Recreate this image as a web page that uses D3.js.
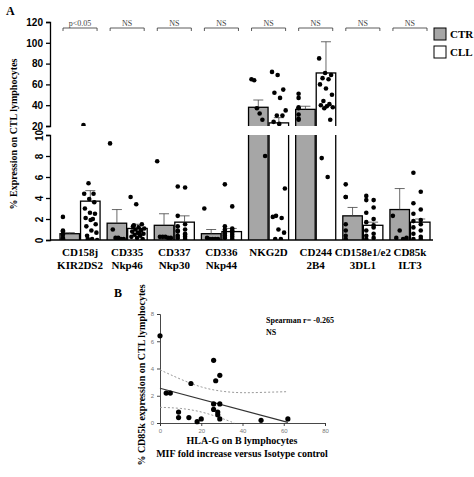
<!DOCTYPE html>
<html lang="en">
<head>
<meta charset="UTF-8">
<script src="https://cdnjs.cloudflare.com/ajax/libs/d3/7.6.1/d3.min.js"></script>
<style>
  body { margin: 0; background: #fff; }
  text { font-family: "Liberation Serif", serif; font-weight: bold; }
</style>
</head>
<body>
<svg id="fig" width="474" height="477"></svg>
<script>
// ---------------- data: panel A ----------------
const markers = ["CD158j|KIR2DS2", "CD335|Nkp46", "CD337|Nkp30", "CD336|Nkp44", "NKG2D|", "CD244|2B4", "CD158e1/e2|3DL1", "CD85k|ILT3"];
const signif = ["p<0.05", "NS", "NS", "NS", "NS", "NS", "NS", "NS"];
const ctrMean = [0.6, 1.6, 1.4, 0.6, 38, 36, 2.3, 2.9];
const ctrErr  = [0.7, 2.9, 2.5, 1.0, 45, 39, 3.1, 4.9];
const cllMean = [3.7, 1.1, 1.7, 0.8, 23, 71, 1.4, 1.7];
const cllErr  = [4.7, 1.5, 2.3, 1.1, 28, 101, 1.7, 2.0];
const ctrDots = [
  [2.2, 0.9, 0.8, 0.5, 0.2, 0.1, 0.1],
  [9.2, 1.0, 0.2, 0.2, 0.1, 0.1],
  [7.5, 0.3, 0.3, 0.3, 0.2, 0.2],
  [3.0, 0.2, 0.1, 0.1, 0.1, 0.1],
  [65, 64, 37, 32, 26, 8.0],
  [51, 47, 38, 37, 31, 27, 26],
  [5.3, 4.1, 4.1, 1.5, 0.9, 0.4, 0.1],
  [2.3, 0.9, 0.2, 0.2, 0.1]
];
const cllDots = [
  [21, 5.4, 4.4, 4.4, 3.9, 3.6, 3.0, 2.6, 2.5, 2.1, 1.9, 1.5, 1.3, 0.9, 0.7, 0.4, 0.1, 0.0, 0.1, 2.0],
  [4.1, 3.4, 1.5, 1.3, 1.2, 1.1, 1.0, 0.9, 0.8, 0.7, 0.6, 0.5, 0.4, 0.3, 0.2, 0.1, 1.4, 0.6],
  [5.1, 5.0, 2.3, 1.5, 1.3, 1.0, 0.8, 0.6, 0.4, 0.3, 0.2, 0.1, 0.9, 0.5],
  [5.3, 3.2, 1.3, 1.1, 1.0, 0.9, 0.8, 0.7, 0.6, 0.5, 0.4, 0.3, 0.2, 0.1],
  [72, 69, 55, 52, 47, 35, 30, 30, 24, 22, 4.9, 2.3, 2.1, 2.2, 1.0, 0.7, 0.1, 0.1],
  [85, 71, 69, 66, 65, 60, 56, 50, 44, 41, 40, 39, 38, 37, 26, 7.8, 6.0],
  [4.2, 3.8, 3.8, 3.1, 2.6, 2.0, 1.7, 1.2, 0.9, 0.6, 0.4, 0.2, 0.1, 1.4],
  [6.4, 4.6, 3.5, 2.9, 2.5, 1.9, 1.8, 1.5, 1.2, 0.9, 0.6, 0.3, 0.1, 0.1]
];
const topTicks = [20, 40, 60, 80, 100, 120];
const lowTicks = [0, 2, 4, 6, 8, 10];

// ---------------- data: panel B ----------------
const hlaG  = [0, 3, 5, 9, 9, 14, 15, 18, 20, 26, 27, 29, 26, 26, 28, 28, 29, 29, 49, 62];
const cd85k = [6.4, 2.2, 2.2, 0.8, 0.4, 0.4, 2.9, 0.1, 0.3, 4.6, 3.1, 3.5, 1.4, 1.0, 0.6, 0.8, 1.4, 0.3, 0.2, 0.3];
const fitLine = [[0, 2.55], [62, 0.05]];
const bandUpper = [[0, 3.9], [10, 3.2], [20, 2.6], [30, 2.3], [40, 2.2], [50, 2.25], [62, 2.3]];
const bandLower = [[0, 1.15], [10, 1.1], [20, 0.85], [30, 0.35], [36, 0.0]];

const svg = d3.select("#fig");

/*---------------- panel A ----------------*/
const x0 = d3.scaleBand().domain(d3.range(markers.length)).range([60, 430]).paddingInner(0.15).paddingOuter(0);
const x1 = d3.scaleBand().domain(["ctr", "cll"]).range([0, x0.bandwidth()]).paddingInner(0.05).paddingOuter(0);
const yTop = d3.scaleLinear().domain([20, 120]).range([126, 22]);
const yLow = d3.scaleLinear().domain([0, 10]).range([240, 135]);

// clip paths for the two segments
const defs = svg.append("defs");
defs.append("clipPath").attr("id", "clipTop").append("rect").attr("x", 50).attr("y", 0).attr("width", 400).attr("height", 126);
defs.append("clipPath").attr("id", "clipLow").append("rect").attr("x", 50).attr("y", 135).attr("width", 400).attr("height", 105);

const gTop = svg.append("g").attr("clip-path", "url(#clipTop)");
const gLow = svg.append("g").attr("clip-path", "url(#clipLow)");

function drawSeg(g, y, lo) {
  markers.forEach((m, i) => {
    [["ctr", ctrMean, ctrErr, ctrDots, "#a6a6a6"], ["cll", cllMean, cllErr, cllDots, "#fff"]].forEach(([k, mean, err, dots, fill]) => {
      const bx = x0(i) + x1(k), bw = x1.bandwidth();
      if (mean[i] > lo) {
        g.append("rect").attr("x", bx).attr("y", y(mean[i])).attr("width", bw)
          .attr("height", y(lo) - y(mean[i]) + 2).attr("fill", fill).attr("stroke", "#000").attr("stroke-width", 1.3);
      }
      const cx = bx + bw / 2;
      g.append("line").attr("x1", cx).attr("x2", cx).attr("y1", y(mean[i])).attr("y2", y(err[i])).attr("stroke", "#444").attr("stroke-width", 0.8);
      g.append("line").attr("x1", cx - 5).attr("x2", cx + 5).attr("y1", y(err[i])).attr("y2", y(err[i])).attr("stroke", "#444").attr("stroke-width", 0.8);
      const n = dots[i].length;
      dots[i].forEach((v, j) => {
        const off = ((j * 7) % n) / Math.max(n - 1, 1) - 0.5;
        g.append("circle").attr("cx", cx + off * bw * 0.7).attr("cy", y(v)).attr("r", 2.3).attr("fill", "#000");
      });
    });
  });
}
drawSeg(gTop, yTop, 20);
drawSeg(gLow, yLow, 0);

// axes
const axTop = svg.append("g").attr("transform", "translate(50,0)")
  .call(d3.axisLeft(yTop).tickValues(topTicks).tickSize(4));
const axLow = svg.append("g").attr("transform", "translate(50,0)")
  .call(d3.axisLeft(yLow).tickValues(lowTicks).tickSize(4));
[axTop, axLow].forEach(a => {
  a.selectAll("path,line").attr("stroke", "#000").attr("stroke-width", 1.3);
  a.selectAll("text").style("font-family", "Liberation Sans, Arial, sans-serif").style("font-weight", "bold").style("font-size", "10px");
});
axLow.selectAll(".tick text").attr("transform", "rotate(-90)").attr("x", 0).attr("y", -11).attr("dy", "0.35em").attr("text-anchor", "middle");
svg.append("line").attr("x1", 50).attr("x2", 433).attr("y1", 240).attr("y2", 240).attr("stroke", "#000").attr("stroke-width", 1.5);

// category labels
markers.forEach((m, i) => {
  const [a, b] = m.split("|");
  const cx = x0(i) + x0.bandwidth() / 2;
  svg.append("text").attr("x", cx).attr("y", 256).attr("text-anchor", "middle").attr("font-size", 11).text(a);
  svg.append("text").attr("x", cx).attr("y", 269).attr("text-anchor", "middle").attr("font-size", 11).text(b);
  // significance brackets
  const l = x0(i) + 3, r = x0(i) + x0.bandwidth() - 3;
  svg.append("path").attr("d", `M${l},31V28H${r}V31`).attr("fill", "none").attr("stroke", "#333").attr("stroke-width", 0.8);
  svg.append("text").attr("x", (l + r) / 2).attr("y", 26).attr("text-anchor", "middle").attr("font-size", 8)
    .style("font-weight", "normal").attr("fill", "#444").text(signif[i]);
});

svg.append("text").attr("x", 6).attr("y", 15).attr("font-size", 12).text("A");
svg.append("text").attr("transform", "translate(17,134) rotate(-90)").attr("text-anchor", "middle").attr("font-size", 10)
  .text("% Expression on CTL lymphocytes");

// legend
[["CTR", "#a6a6a6", 28], ["CLL", "#fff", 46]].forEach(([t, f, yy]) => {
  svg.append("rect").attr("x", 434).attr("y", yy).attr("width", 12).attr("height", 12).attr("fill", f).attr("stroke", "#000");
  svg.append("text").attr("x", 450).attr("y", yy + 10).attr("font-size", 11).text(t);
});

/*---------------- panel B ----------------*/
const bx = d3.scaleLinear().domain([0, 80]).range([160, 325]);
const by = d3.scaleLinear().domain([0, 8]).range([423, 314]);
const bAxX = svg.append("g").attr("transform", "translate(0,423)").call(d3.axisBottom(bx).tickValues([0, 20, 40, 60, 80]).tickSize(3));
const bAxY = svg.append("g").attr("transform", "translate(160,0)").call(d3.axisLeft(by).tickValues([0, 2, 4, 6, 8]).tickSize(3));
[bAxX, bAxY].forEach(a => {
  a.selectAll("path,line").attr("stroke", "#333").attr("stroke-width", 0.9);
  a.selectAll("text").style("font-family", "Liberation Sans, sans-serif").style("font-weight", "normal").style("font-size", "6px").attr("fill", "#777");
});
const line = d3.line().x(d => bx(d[0])).y(d => by(d[1]));
const curve = d3.line().x(d => bx(d[0])).y(d => by(d[1])).curve(d3.curveBasis);
svg.append("path").attr("d", line(fitLine)).attr("stroke", "#333").attr("stroke-width", 1.2).attr("fill", "none");
[bandUpper, bandLower].forEach(b => svg.append("path").attr("d", curve(b)).attr("stroke", "#999")
  .attr("stroke-dasharray", "2,2").attr("stroke-width", 1).attr("fill", "none"));
hlaG.forEach((v, i) => svg.append("circle").attr("cx", bx(v)).attr("cy", by(cd85k[i])).attr("r", 2.6).attr("fill", "#000"));

svg.append("text").attr("x", 114).attr("y", 297).attr("font-size", 12).text("B");
svg.append("text").attr("x", 266).attr("y", 323).attr("font-size", 8).text("Spearman r= -0.265");
svg.append("text").attr("x", 266).attr("y", 335).attr("font-size", 8).text("NS");
svg.append("text").attr("x", 242).attr("y", 444).attr("text-anchor", "middle").attr("font-size", 10).text("HLA-G on B lymphocytes");
svg.append("text").attr("x", 242).attr("y", 457).attr("text-anchor", "middle").attr("font-size", 10).text("MIF fold increase versus Isotype control");
svg.append("text").attr("transform", "translate(145,375) rotate(-90)").attr("text-anchor", "middle").attr("font-size", 10)
  .text("% CD85k expression on CTL lymphocytes");
</script>
</body>
</html>
